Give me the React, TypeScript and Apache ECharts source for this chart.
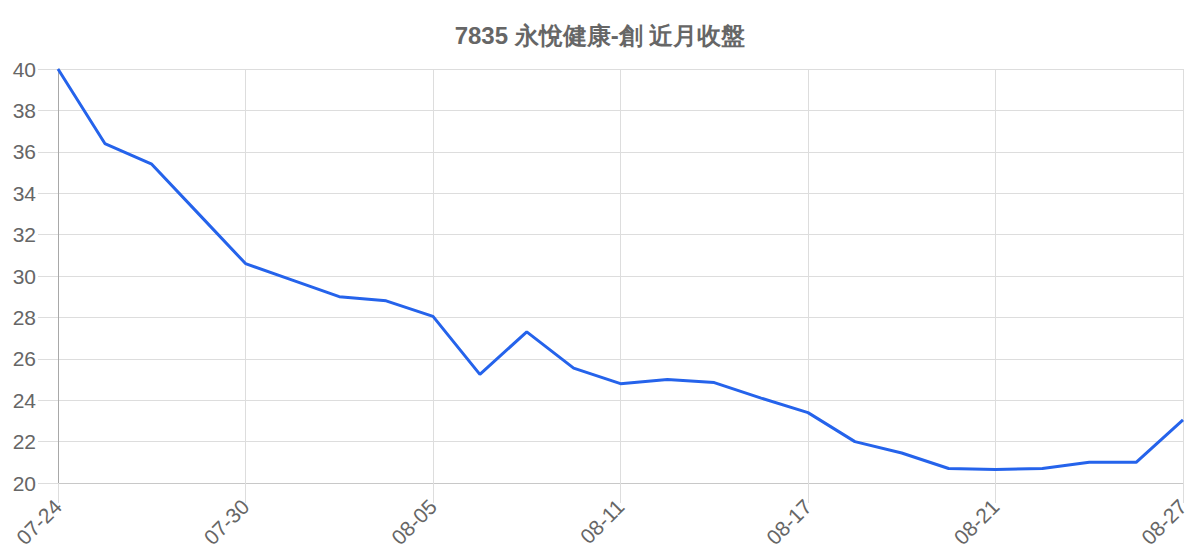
import React, { useEffect, useRef } from 'react';
import * as echarts from 'echarts';

// 近月收盤 (trading days)
const dates = [
  '07-24', '07-25', '07-28', '07-29', '07-30', '07-31', '08-01', '08-04', '08-05',
  '08-06', '08-07', '08-08', '08-11', '08-12', '08-13', '08-15', '08-17', '08-18',
  '08-19', '08-20', '08-21', '08-22', '08-25', '08-26', '08-27',
];
const closes = [
  40.0, 36.4, 35.4, 33.0, 30.6, 29.8, 29.0, 28.8, 28.05,
  25.25, 27.3, 25.55, 24.8, 25.0, 24.85, 24.1, 23.4, 22.0,
  21.45, 20.7, 20.65, 20.7, 21.0, 21.0, 23.05,
];
const title = '7835 永悅健康-創 近月收盤';
const yMin = 20;
const yMax = 40;
const yStep = 2;

const FONT = '"Liberation Sans", Arial, Helvetica, sans-serif';
const GRID = '#dddddd';

export default function App() {
  const chartRef = useRef<HTMLDivElement>(null);

  useEffect(() => {
    document.body.style.margin = '0';
    if (!chartRef.current) return;
    const chart = echarts.init(chartRef.current, null, { renderer: 'svg' });

    chart.setOption({
      animation: false,
      backgroundColor: '#ffffff',
      textStyle: { fontFamily: FONT },
      title: {
        text: title,
        left: 'center',
        top: 18,
        textStyle: {
          fontFamily: FONT,
          fontSize: 24,
          fontWeight: 'bold',
          color: '#666666',
        },
      },
      grid: { left: 58, right: 17, top: 69, bottom: 77, containLabel: false },
      xAxis: {
        type: 'category',
        data: dates,
        boundaryGap: false,
        axisLine: { show: true, lineStyle: { color: '#c8c8c8', width: 1 } },
        axisTick: {
          show: true,
          interval: 3,
          length: 20,
          lineStyle: { color: GRID },
        },
        axisLabel: {
          interval: 3,
          rotate: 45,
          margin: 20,
          fontSize: 21,
          color: '#666666',
          fontFamily: FONT,
        },
        splitLine: {
          show: true,
          interval: 3,
          lineStyle: { color: GRID, width: 1 },
        },
      },
      yAxis: {
        type: 'value',
        min: yMin,
        max: yMax,
        interval: yStep,
        axisLine: { show: true, lineStyle: { color: '#a8a8a8', width: 1 } },
        axisTick: { show: true, length: 20, lineStyle: { color: GRID } },
        axisLabel: {
          margin: 22,
          fontSize: 21,
          color: '#666666',
          fontFamily: FONT,
        },
        splitLine: { show: true, lineStyle: { color: GRID, width: 1 } },
      },
      series: [
        {
          type: 'line',
          data: closes,
          symbol: 'none',
          smooth: false,
          lineStyle: { color: '#2563eb', width: 3 },
          itemStyle: { color: '#2563eb' },
        },
      ],
    });

    return () => {
      chart.dispose();
    };
  }, []);

  return <div ref={chartRef} style={{ width: 1200, height: 560 }} />;
}
